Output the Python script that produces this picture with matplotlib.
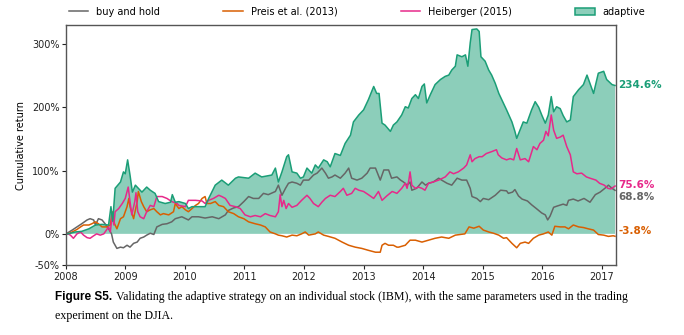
import matplotlib
matplotlib.use('Agg')
import matplotlib.pyplot as plt
from matplotlib.patches import Patch
from matplotlib.lines import Line2D

# cumulative returns (%) of the four strategies, sampled at turning points (decimal years)
bh_t = [2008.00, 2008.04, 2008.11, 2008.19, 2008.27, 2008.36, 2008.41, 2008.47, 2008.50, 2008.55,
        2008.61, 2008.67, 2008.72, 2008.77, 2008.80, 2008.86, 2008.92, 2008.97, 2009.03, 2009.08,
        2009.14, 2009.20, 2009.25, 2009.31, 2009.36, 2009.42, 2009.48, 2009.53, 2009.62, 2009.70,
        2009.78, 2009.84, 2009.95, 2010.06, 2010.12, 2010.23, 2010.34, 2010.46, 2010.57, 2010.68,
        2010.73, 2010.82, 2010.90, 2010.99, 2011.07, 2011.15, 2011.24, 2011.32, 2011.40, 2011.52,
        2011.57, 2011.63, 2011.69, 2011.74, 2011.80, 2011.88, 2011.94, 2011.99, 2012.08, 2012.16,
        2012.22, 2012.30, 2012.36, 2012.41, 2012.47, 2012.52, 2012.61, 2012.69, 2012.75, 2012.80,
        2012.89, 2012.97, 2013.06, 2013.11, 2013.20, 2013.28, 2013.34, 2013.42, 2013.47, 2013.56,
        2013.62, 2013.67, 2013.73, 2013.78, 2013.81, 2013.89, 2013.98, 2014.04, 2014.09, 2014.17,
        2014.26, 2014.31, 2014.40, 2014.48, 2014.57, 2014.65, 2014.73, 2014.79, 2014.82, 2014.90,
        2014.96, 2015.01, 2015.10, 2015.21, 2015.30, 2015.40, 2015.43, 2015.50, 2015.54, 2015.60,
        2015.66, 2015.75, 2015.82, 2015.90, 2015.99, 2016.05, 2016.09, 2016.13, 2016.19, 2016.25,
        2016.35, 2016.41, 2016.44, 2016.52, 2016.60, 2016.70, 2016.80, 2016.89, 2016.97, 2017.05,
        2017.11, 2017.17, 2017.22]
bh_v = [0, 2, 6, 11, 16, 22, 24, 22, 14, 24,
        22, 15, 8, 0, -13, -23, -21, -22, -18, -21,
        -15, -13, -7, -5, -2, 1, -1, 11, 15, 16,
        19, 24, 27, 22, 27, 27, 25, 27, 24, 30,
        37, 41, 43, 51, 59, 56, 56, 64, 62, 67,
        77, 61, 72, 80, 82, 80, 77, 85, 85, 93,
        96, 104, 96, 88, 90, 93, 88, 96, 104, 88,
        85, 88, 96, 104, 104, 85, 101, 101, 88, 90,
        85, 82, 77, 82, 69, 72, 82, 77, 80, 82,
        88, 85, 80, 77, 88, 85, 85, 72, 59, 56,
        51, 56, 54, 61, 69, 68, 64, 66, 70, 60,
        55, 52, 46, 40, 33, 30, 22, 28, 42, 44,
        47, 45, 53, 55, 52, 56, 50, 62, 66, 72,
        77, 72, 68.8]

preis_t = [2008.00, 2008.04, 2008.11, 2008.19, 2008.25, 2008.30, 2008.39, 2008.44, 2008.50, 2008.55,
           2008.61, 2008.69, 2008.75, 2008.78, 2008.82, 2008.86, 2008.92, 2008.97, 2009.03, 2009.06,
           2009.08, 2009.14, 2009.20, 2009.22, 2009.27, 2009.31, 2009.36, 2009.42, 2009.48, 2009.53,
           2009.59, 2009.64, 2009.73, 2009.81, 2009.84, 2009.90, 2009.95, 2010.01, 2010.06, 2010.12,
           2010.18, 2010.23, 2010.29, 2010.34, 2010.37, 2010.43, 2010.51, 2010.57, 2010.65, 2010.73,
           2010.82, 2010.90, 2010.99, 2011.07, 2011.18, 2011.27, 2011.35, 2011.43, 2011.52, 2011.57,
           2011.63, 2011.71, 2011.80, 2011.88, 2011.96, 2012.02, 2012.08, 2012.19, 2012.24, 2012.33,
           2012.41, 2012.52, 2012.64, 2012.75, 2012.86, 2012.97, 2013.08, 2013.20, 2013.28, 2013.31,
           2013.36, 2013.42, 2013.50, 2013.56, 2013.59, 2013.70, 2013.78, 2013.87, 2013.98, 2014.09,
           2014.20, 2014.31, 2014.43, 2014.54, 2014.70, 2014.77, 2014.85, 2014.94, 2015.01, 2015.10,
           2015.18, 2015.27, 2015.35, 2015.40, 2015.49, 2015.57, 2015.63, 2015.71, 2015.77, 2015.85,
           2015.94, 2016.02, 2016.10, 2016.16, 2016.21, 2016.30, 2016.38, 2016.44, 2016.52, 2016.61,
           2016.69, 2016.77, 2016.86, 2016.94, 2017.03, 2017.11, 2017.19, 2017.22]
preis_v = [0, 0, 3, 7, 11, 14, 14, 16, 19, 16,
           11, 11, 14, 35, 16, 8, 24, 27, 43, 56,
           43, 24, 51, 67, 51, 43, 35, 38, 40, 35,
           30, 32, 30, 35, 48, 40, 43, 38, 35, 40,
           45, 48, 56, 59, 48, 48, 51, 45, 43, 35,
           32, 27, 24, 19, 16, 14, 11, 3, 0, -2,
           -3, -5, -2, -3, 0, 3, -2, 0, 3, -2,
           -4, -7, -13, -18, -21, -23, -26, -29, -29, -18,
           -15, -18, -18, -21, -21, -18, -10, -10, -13, -10,
           -7, -5, -7, -2, 0, 11, 9, 12, 6, 3,
           1, -2, -7, -6, -15, -22, -15, -13, -15, -7,
           -2, 0, 3, -2, 12, 11, 11, 8, 14, 11,
           10, 8, 6, -1, -2, -4, -3, -3.8]

heib_t = [2008.00, 2008.04, 2008.08, 2008.13, 2008.19, 2008.25, 2008.30, 2008.36, 2008.41, 2008.47,
          2008.52, 2008.58, 2008.64, 2008.72, 2008.75, 2008.78, 2008.81, 2008.83, 2008.89, 2008.95,
          2009.00, 2009.05, 2009.08, 2009.11, 2009.16, 2009.18, 2009.21, 2009.25, 2009.31, 2009.36,
          2009.42, 2009.48, 2009.53, 2009.62, 2009.70, 2009.78, 2009.87, 2009.90, 2010.01, 2010.06,
          2010.18, 2010.29, 2010.34, 2010.40, 2010.48, 2010.57, 2010.62, 2010.68, 2010.76, 2010.85,
          2010.93, 2011.01, 2011.10, 2011.18, 2011.27, 2011.35, 2011.43, 2011.52, 2011.57, 2011.60,
          2011.63, 2011.66, 2011.70, 2011.74, 2011.80, 2011.88, 2011.96, 2012.05, 2012.10, 2012.16,
          2012.24, 2012.30, 2012.36, 2012.44, 2012.52, 2012.61, 2012.66, 2012.72, 2012.80, 2012.86,
          2012.92, 2013.00, 2013.08, 2013.17, 2013.25, 2013.31, 2013.39, 2013.48, 2013.56, 2013.64,
          2013.70, 2013.73, 2013.76, 2013.78, 2013.81, 2013.87, 2013.92, 2013.98, 2014.03, 2014.09,
          2014.17, 2014.26, 2014.37, 2014.45, 2014.51, 2014.59, 2014.68, 2014.73, 2014.79, 2014.82,
          2014.87, 2014.94, 2014.99, 2015.06, 2015.15, 2015.23, 2015.26, 2015.32, 2015.40, 2015.46,
          2015.52, 2015.57, 2015.63, 2015.71, 2015.77, 2015.85, 2015.91, 2015.96, 2016.02, 2016.06,
          2016.10, 2016.15, 2016.19, 2016.24, 2016.30, 2016.35, 2016.41, 2016.47, 2016.52, 2016.58,
          2016.66, 2016.74, 2016.80, 2016.90, 2016.96, 2017.04, 2017.10, 2017.15, 2017.22]
heib_v = [0, 0, -2, -7, 0, 3, -2, -6, -7, -3,
          0, -2, 0, 11, 3, 30, 14, 35, 40, 48,
          56, 74, 51, 30, 51, 65, 35, 27, 24, 35,
          45, 43, 59, 59, 56, 51, 48, 45, 43, 53,
          53, 52, 48, 53, 56, 61, 59, 56, 45, 43,
          40, 30, 27, 29, 27, 32, 29, 27, 35, 62,
          43, 53, 40, 48, 42, 45, 53, 61, 56, 48,
          43, 50, 56, 61, 59, 67, 72, 61, 64, 72,
          69, 67, 62, 56, 67, 53, 60, 67, 64, 72,
          80, 72, 85, 98, 77, 72, 74, 72, 69, 80,
          82, 85, 90, 98, 95, 98, 104, 109, 125, 114,
          119, 122, 122, 127, 130, 133, 125, 120, 117, 119,
          117, 135, 117, 119, 114, 138, 133, 143, 148, 162,
          155, 188, 164, 151, 153, 156, 138, 125, 98, 95,
          96, 90, 88, 85, 80, 77, 72, 71, 75.6]

adapt_t = [2008.00, 2008.04, 2008.16, 2008.27, 2008.39, 2008.50, 2008.61, 2008.72, 2008.76, 2008.79,
           2008.83, 2008.92, 2008.97, 2009.00, 2009.04, 2009.08, 2009.12, 2009.17, 2009.22, 2009.28,
           2009.36, 2009.42, 2009.50, 2009.56, 2009.67, 2009.76, 2009.79, 2009.84, 2009.90, 2010.01,
           2010.06, 2010.12, 2010.23, 2010.34, 2010.40, 2010.51, 2010.62, 2010.73, 2010.85, 2010.90,
           2011.07, 2011.18, 2011.29, 2011.46, 2011.52, 2011.57, 2011.63, 2011.71, 2011.74, 2011.80,
           2011.88, 2011.94, 2011.99, 2012.05, 2012.13, 2012.19, 2012.24, 2012.33, 2012.39, 2012.44,
           2012.52, 2012.61, 2012.69, 2012.78, 2012.83, 2012.92, 2013.00, 2013.08, 2013.17, 2013.22,
           2013.26, 2013.31, 2013.36, 2013.45, 2013.50, 2013.56, 2013.64, 2013.70, 2013.75, 2013.81,
           2013.87, 2013.92, 2013.98, 2014.02, 2014.06, 2014.12, 2014.20, 2014.29, 2014.37, 2014.43,
           2014.48, 2014.54, 2014.57, 2014.65, 2014.71, 2014.75, 2014.79, 2014.82, 2014.90, 2014.94,
           2014.97, 2015.04, 2015.10, 2015.15, 2015.21, 2015.27, 2015.32, 2015.40, 2015.49, 2015.54,
           2015.57, 2015.63, 2015.68, 2015.74, 2015.82, 2015.88, 2015.94, 2015.99, 2016.05, 2016.10,
           2016.15, 2016.19, 2016.24, 2016.30, 2016.35, 2016.41, 2016.47, 2016.52, 2016.61, 2016.69,
           2016.75, 2016.80, 2016.86, 2016.94, 2017.03, 2017.08, 2017.17, 2017.22]
adapt_v = [0, 0, 3, 4, 8, 14, 15, 14, 43, 20,
           72, 82, 98, 95, 117, 93, 66, 77, 72, 66,
           74, 69, 64, 51, 48, 50, 62, 50, 51, 48,
           40, 43, 43, 43, 56, 77, 85, 77, 88, 90,
           88, 96, 90, 93, 104, 82, 98, 122, 125, 98,
           96, 88, 90, 104, 96, 109, 104, 117, 114, 106,
           127, 124, 143, 156, 177, 188, 196, 212, 233, 222,
           222, 175, 172, 162, 172, 177, 188, 201, 199, 214,
           220, 214, 233, 237, 207, 220, 236, 244, 249, 251,
           259, 265, 283, 280, 283, 265, 302, 323, 324, 320,
           280, 273, 259, 251, 238, 222, 212, 196, 177, 162,
           151, 165, 177, 175, 196, 209, 200, 188, 175, 188,
           217, 193, 201, 198, 187, 177, 180, 217, 228, 236,
           251, 238, 222, 254, 257, 244, 236, 234.6]

years = list(range(2008, 2018))
ytick_vals = [-50, 0, 100, 200, 300]

c_bh = '#666666'
c_preis = '#d95f02'
c_heib = '#e7298a'
c_adapt = '#1b9e77'

plt.rcParams['font.family'] = 'DejaVu Sans'
plt.rcParams['font.size'] = 7

fig = plt.figure(figsize=(6.84, 3.35), dpi=100)
ax = fig.add_axes([0.096, 0.2075, 0.804, 0.7175])

ax.fill_between(adapt_t, 0, adapt_v, facecolor=c_adapt, alpha=0.5, linewidth=0)
ax.plot(bh_t, bh_v, color=c_bh, lw=1.1)
ax.plot(preis_t, preis_v, color=c_preis, lw=1.1)
ax.plot(heib_t, heib_v, color=c_heib, lw=1.1)
ax.plot(adapt_t, adapt_v, color=c_adapt, lw=1.1)

ax.set_xlim(2008, 2017.23)
ax.set_ylim(-50, 330)
ax.set_xticks(years)
ax.set_xticklabels([str(y) for y in years])
ax.set_yticks(ytick_vals)
ax.set_yticklabels(['%d%%' % v for v in ytick_vals])
ax.set_ylabel('Cumulative return', labelpad=4)
ax.tick_params(length=3, width=0.8, pad=1.5, colors='#222222', labelcolor='#222222')
for s in ax.spines.values():
    s.set_color('#555555')
    s.set_linewidth(1.0)

# final values printed beside the right edge
ends = [(adapt_v[-1], c_adapt, 0), (heib_v[-1], c_heib, 1), (bh_v[-1], c_bh, -5), (preis_v[-1], c_preis, 4)]
for val, col, dy in ends:
    ax.annotate('%.1f%%' % val, xy=(1.0, val), xycoords=('axes fraction', 'data'),
                xytext=(2, dy), textcoords='offset points', va='center', ha='left',
                color=col, fontweight='bold', fontsize=7.5)

handles = [Line2D([], [], color=c_bh, lw=1.1),
           Line2D([], [], color=c_preis, lw=1.1),
           Line2D([], [], color=c_heib, lw=1.1),
           Patch(facecolor=c_adapt + '80', edgecolor=c_adapt, lw=1.1)]
labels = ['buy and hold', 'Preis et al. (2013)', 'Heiberger (2015)', 'adaptive']
fig.legend(handles, labels, loc='center', ncol=4, mode='expand', frameon=False,
           bbox_to_anchor=(0.095, 0.93, 0.854, 0.07), borderaxespad=0, fontsize=7)

# caption under the chart
cap1 = fig.text(0.081, 0.113, 'Figure S5.', family='Liberation Sans', fontweight='bold',
                fontsize=8.5, va='center', ha='left')
fig.canvas.draw()
bb = cap1.get_window_extent()
x2 = (bb.x1 + 3) / fig.bbox.width
fig.text(x2, 0.113, 'Validating the adaptive strategy on an individual stock (IBM), with the same '
         'parameters used in the trading', family='Liberation Serif', fontsize=8.6,
         va='center', ha='left')
fig.text(0.081, 0.058, 'experiment on the DJIA.', family='Liberation Serif', fontsize=8.6,
         va='center', ha='left')

fig.savefig('out.png', dpi=100)
